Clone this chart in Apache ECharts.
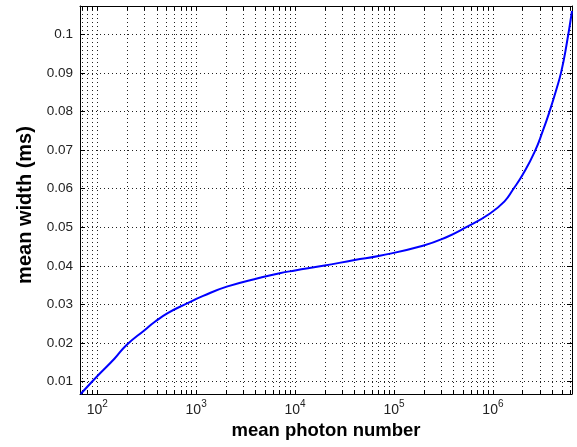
<!DOCTYPE html>
<html>
<head>
<meta charset="utf-8">
<script src="https://cdn.jsdelivr.net/npm/echarts@6/dist/echarts.min.js"></script>
<style>
  html, body { margin: 0; padding: 0; background: #fff; }
  #main { width: 577px; height: 447px; }
</style>
</head>
<body>
<div id="main"></div>
<script>
// mean photon number (x) vs mean width in ms (y)
var photons = [68, 88, 100, 150, 198, 303, 383, 521, 800, 1178, 2040, 4400, 7000, 10000,
    19200, 40000, 71800, 196000, 338000, 538000, 927000, 1310000, 1590000, 2010000,
    2640000, 3200000, 3740000, 4370000, 4910000, 5510000, 6300000];
var widths = [0.0068, 0.0099, 0.0114, 0.0160, 0.0195, 0.0234, 0.0255, 0.0278, 0.0302, 0.0322,
    0.0346, 0.0369, 0.0381, 0.0388, 0.0400, 0.0415, 0.0426, 0.0452, 0.0474, 0.0500, 0.0535,
    0.0567, 0.0597, 0.0637, 0.0695, 0.0750, 0.0800, 0.0856, 0.0903, 0.0968, 0.1060];

var xMajor = [100, 1000, 10000, 100000, 1000000];
var yTicks = [0.01, 0.02, 0.03, 0.04, 0.05, 0.06, 0.07, 0.08, 0.09, 0.1];
var xMin = 67, xMax = 6300000;
var yMin = 0.0068, yMax = 0.1073;

// every 1..9 x 10^n inside the range, for ticks and the dotted grid
var xAll = [];
for (var e = 1; e <= 6; e++) {
    for (var k = 1; k <= 9; k++) {
        var v = k * Math.pow(10, e);
        if (v > xMin && v < xMax) xAll.push(v);
    }
}

var points = photons.map(function (p, i) { return [p, widths[i]]; });

var chartDom = document.getElementById('main');
var myChart = echarts.init(chartDom, null, { renderer: 'canvas' });
var font = 'Liberation Sans, Arial, sans-serif';
var dotted = { show: true, lineStyle: { color: '#222', width: 1, type: [1, 3] } };
var frame = { show: true, lineStyle: { color: '#000', width: 1 } };

var option = {
    backgroundColor: '#fff',
    animation: false,
    grid: { left: 80, right: 5, top: 6, bottom: 53, containLabel: false },
    xAxis: [
        {
            type: 'log', logBase: 10, min: xMin, max: xMax, position: 'bottom',
            name: 'mean photon number', nameLocation: 'middle', nameGap: 27,
            nameTextStyle: { fontFamily: font, fontSize: 18.5, fontWeight: 'bold', color: '#000' },
            axisLine: frame,
            axisTick: { show: true, inside: true, length: 4, customValues: xAll, lineStyle: { color: '#000' } },
            axisLabel: {
                customValues: xMajor, margin: 5, fontFamily: font, color: '#222',
                formatter: function (v) {
                    return '{b|10}{s|' + Math.round(Math.log10(v)) + '}';
                },
                rich: {
                    b: { fontSize: 14, fontFamily: font, color: '#222', verticalAlign: 'bottom' },
                    s: { fontSize: 10, fontFamily: font, color: '#222', padding: [0, 0, 8, 0], verticalAlign: 'bottom' }
                }
            },
            splitLine: dotted
        },
        {
            type: 'log', logBase: 10, min: xMin, max: xMax, position: 'top',
            axisLine: frame,
            axisTick: { show: true, inside: true, length: 4, customValues: xAll, lineStyle: { color: '#000' } },
            axisLabel: { show: false },
            splitLine: { show: false }
        }
    ],
    yAxis: [
        {
            type: 'value', min: yMin, max: yMax, position: 'left',
            name: 'mean width (ms)', nameLocation: 'middle', nameGap: 38,
            nameTextStyle: { fontFamily: font, fontSize: 20, fontWeight: 'bold', color: '#000', padding: [0, 10, 0, 0] },
            axisLine: frame,
            axisTick: { show: true, inside: true, length: 5, customValues: yTicks, lineStyle: { color: '#000' } },
            axisLabel: {
                customValues: yTicks, margin: 7, fontFamily: font, fontSize: 13.5, color: '#222',
                formatter: function (v) { return String(+v.toFixed(2)); }
            },
            splitLine: dotted
        },
        {
            type: 'value', min: yMin, max: yMax, position: 'right',
            axisLine: frame,
            axisTick: { show: true, inside: true, length: 5, customValues: yTicks, lineStyle: { color: '#000' } },
            axisLabel: { show: false },
            splitLine: { show: false }
        }
    ],
    series: [
        {
            type: 'line',
            data: points,
            smooth: 0.5,
            showSymbol: false,
            clip: true,
            lineStyle: { color: '#0000ff', width: 2 }
        }
    ]
};
option && myChart.setOption(option);
</script>
</body>
</html>
